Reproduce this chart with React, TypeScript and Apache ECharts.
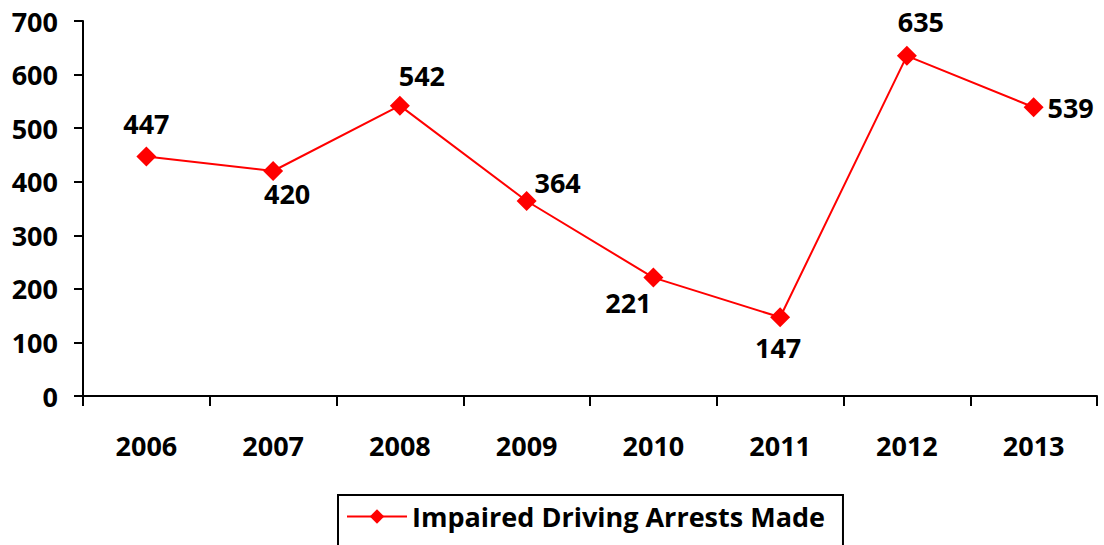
import React, { useEffect, useRef } from "react";
import * as echarts from "echarts";

const years = ["2006", "2007", "2008", "2009", "2010", "2011", "2012", "2013"];
const arrests = [447, 420, 542, 364, 221, 147, 635, 539];
const seriesName = "Impaired Driving Arrests Made";
const labelOffsets: number[][] = [
  [0, -33], [14, 22], [22, -30], [31, -19], [-25, 25], [-2, 30], [14, -34], [37, 0],
];

const FONT = "'Open Sans', sans-serif";

export default function App() {
  const ref = useRef<HTMLDivElement>(null);
  useEffect(() => {
    if (!ref.current) return;
    const chart = echarts.init(ref.current, null, { renderer: "svg" });
    chart.setOption({
      animation: false,
      textStyle: { fontFamily: FONT },
      grid: { left: 83, right: 7, top: 21, bottom: 149 },
      xAxis: {
        type: "category",
        data: years,
        boundaryGap: true,
        axisLine: { lineStyle: { color: "#000", width: 2 } },
        axisTick: { show: true, length: 10, lineStyle: { color: "#000", width: 2 } },
        axisLabel: { color: "#000", fontSize: 27, fontWeight: "bold", fontFamily: FONT, margin: 36 },
        splitLine: { show: false },
      },
      yAxis: {
        type: "value",
        min: 0,
        max: 700,
        interval: 100,
        axisLine: { show: true, lineStyle: { color: "#000", width: 2 } },
        axisTick: { show: true, length: 9, lineStyle: { color: "#000", width: 2 } },
        axisLabel: { color: "#000", fontSize: 27, fontWeight: "bold", fontFamily: FONT, margin: 25 },
        splitLine: { show: false },
      },
      legend: {
        show: true,
        left: 338,
        top: 495,
        padding: [8, 18, 24, 8],
        borderColor: "#000",
        borderWidth: 2,
        itemWidth: 60,
        itemHeight: 18,
        textStyle: { color: "#000", fontSize: 27, fontWeight: "bold", fontFamily: FONT },
        data: [seriesName],
      },
      series: [
        {
          name: seriesName,
          type: "line",
          data: arrests.map((v, i) => ({
            value: v,
            label: { offset: labelOffsets[i] },
          })),
          symbol: "diamond",
          symbolSize: 20,
          lineStyle: { color: "#FF0000", width: 2 },
          itemStyle: { color: "#FF0000" },
          label: {
            show: true,
            position: "inside",
            color: "#000",
            fontSize: 27,
            fontWeight: "bold",
            fontFamily: FONT,
          },
        },
      ],
    });
    return () => chart.dispose();
  }, []);
  return <div ref={ref} style={{ width: 1104, height: 545, position: "absolute", left: 0, top: 0 }} />;
}
